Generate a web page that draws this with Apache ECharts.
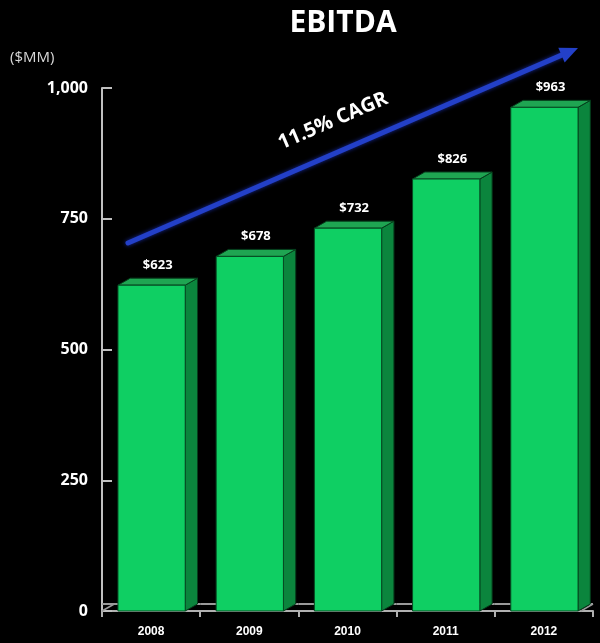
<!DOCTYPE html>
<html>
<head>
<meta charset="utf-8">
<script src="https://cdn.jsdelivr.net/npm/echarts@6/dist/echarts.min.js"></script>
<style>
html,body{margin:0;padding:0;background:#000;}
#main{width:600px;height:643px;}
</style>
</head>
<body>
<div id="main"></div>
<script>
const categories = ['2008', '2009', '2010', '2011', '2012'];
const ebitda = [623, 678, 732, 826, 963];
const valueLabels = ['$623', '$678', '$732', '$826', '$963'];
const yTicks = [0, 250, 500, 750, 1000];
const cagrText = '11.5% CAGR';

const chart = echarts.init(document.getElementById('main'), null, {renderer: 'canvas'});

function renderBar(params, api) {
  const idx = api.value(0);
  const v = api.value(1);
  const base = api.coord([idx, 0]);
  const top = api.coord([idx, v]);
  const bw = api.size([1, 0])[0];
  const fw = bw * 0.685;
  const dx = bw * 0.125;
  const dy = 7;
  const left = base[0] - fw / 2 + 0.5;
  const right = left + fw;
  const children = [];
  children.push({
    type: 'line', z2: 1,
    shape: {x1: base[0] - bw / 2, y1: base[1] - dy, x2: base[0] + bw / 2, y2: base[1] - dy},
    style: {stroke: '#9a9a9a', lineWidth: 2}
  });
  if (idx === 0) {
    children.push({
      type: 'line', z2: 1,
      shape: {x1: base[0] - bw / 2, y1: base[1], x2: base[0] - bw / 2 + dx, y2: base[1] - dy},
      style: {stroke: '#9a9a9a', lineWidth: 1.5}
    });
  }
  if (idx === categories.length - 1) {
    children.push({
      type: 'line', z2: 1,
      shape: {x1: base[0] + bw / 2 - dx, y1: base[1], x2: base[0] + bw / 2, y2: base[1] - dy},
      style: {stroke: '#9a9a9a', lineWidth: 1.5}
    });
  }
  children.push({
    type: 'polygon', z2: 5,
    shape: {points: [[right, top[1]], [right + dx, top[1] - dy], [right + dx, base[1] - dy], [right, base[1]]]},
    style: {fill: '#0b853d', stroke: '#063d1c', lineWidth: 1}
  });
  children.push({
    type: 'polygon', z2: 5,
    shape: {points: [[left, top[1]], [left + dx, top[1] - dy], [right + dx, top[1] - dy], [right, top[1]]]},
    style: {fill: '#1fa552', stroke: '#063d1c', lineWidth: 1}
  });
  children.push({
    type: 'rect', z2: 6,
    shape: {x: left, y: top[1], width: fw, height: base[1] - top[1]},
    style: {fill: '#0fcf63', stroke: '#064a22', lineWidth: 1}
  });
  children.push({
    type: 'text', z2: 7,
    style: {
      text: valueLabels[idx],
      x: left + (fw + dx) / 2, y: top[1] - dy - 13,
      align: 'center', verticalAlign: 'middle',
      fill: '#ffffff', fontSize: 13, fontWeight: 'bold',
      fontFamily: 'Open Sans, Liberation Sans, sans-serif'
    }
  });
  return {type: 'group', children: children};
}

const option = {
  backgroundColor: '#000000',
  animation: false,
  grid: {left: 102, right: 7, top: 88, bottom: 32, containLabel: false},
  xAxis: {
    type: 'category',
    data: categories,
    boundaryGap: true,
    axisLine: {show: true, lineStyle: {color: '#b0b0b0', width: 2}},
    axisTick: {show: true, inside: false, length: 6, lineStyle: {color: '#b0b0b0', width: 2}},
    axisLabel: {color: '#ffffff', fontSize: 12, fontWeight: 'bold', margin: 15,
      fontFamily: 'Liberation Sans, Arial, sans-serif'},
    splitLine: {show: false}
  },
  yAxis: {
    type: 'value',
    min: 0, max: 1000, interval: 250,
    axisLine: {show: true, lineStyle: {color: '#c0c0c0', width: 2}},
    axisTick: {show: true, inside: true, length: 10, lineStyle: {color: '#c0c0c0', width: 2}},
    axisLabel: {
      color: '#ffffff', fontSize: 16, fontWeight: 'bold', margin: 14,
      fontFamily: 'Open Sans, Liberation Sans, sans-serif',
      formatter: function (v) { return yTicks.indexOf(v) >= 0 ? v.toLocaleString('en-US') : ''; }
    },
    splitLine: {show: false}
  },
  series: [{
    type: 'custom',
    renderItem: renderBar,
    data: ebitda.map((v, i) => [i, v]),
    encode: {x: 0, y: 1},
    z: 3
  }]
};

chart.setOption(option);

const arrowStart = [128, 243];
const arrowEnd = [578, 48];
const ang = Math.atan2(arrowEnd[1] - arrowStart[1], arrowEnd[0] - arrowStart[0]);
const headLen = 18, headW = 8;
const ux = Math.cos(ang), uy = Math.sin(ang);
const hb = [arrowEnd[0] - ux * headLen, arrowEnd[1] - uy * headLen];
const head = [
  arrowEnd,
  [hb[0] - uy * headW, hb[1] + ux * headW],
  [hb[0] + uy * headW, hb[1] - ux * headW]
];
const mid = [333, 121];

chart.setOption({
  graphic: [
    {type: 'text', style: {
      text: 'EBITDA', fill: '#ffffff', fontSize: 30, fontWeight: 'bold',
      fontFamily: 'Open Sans, Liberation Sans, sans-serif', x: 343, y: 23, align: 'center', verticalAlign: 'middle'}},
    {type: 'text', style: {
      text: '($MM)', fill: '#d8d8d8', fontSize: 15,
      fontFamily: 'Open Sans, Liberation Sans, sans-serif', x: 10, y: 58, verticalAlign: 'middle'}},
    {type: 'line', z: 10, shape: {x1: arrowStart[0], y1: arrowStart[1], x2: hb[0] + ux * 2, y2: hb[1] + uy * 2},
      style: {stroke: '#2340c8', lineWidth: 5, lineCap: 'round', shadowColor: 'rgba(40,70,255,0.6)', shadowBlur: 4}},
    {type: 'polygon', z: 10, shape: {points: head}, style: {fill: '#2340c8'}},
    {type: 'text', z: 11, x: mid[0], y: mid[1], rotation: -ang, style: {
      text: cagrText, fill: '#ffffff', fontSize: 20, fontWeight: 'bold',
      fontFamily: 'Open Sans, Liberation Sans, sans-serif', x: 0, y: 0, align: 'center', verticalAlign: 'middle'}}
  ]
});
</script>
</body>
</html>
